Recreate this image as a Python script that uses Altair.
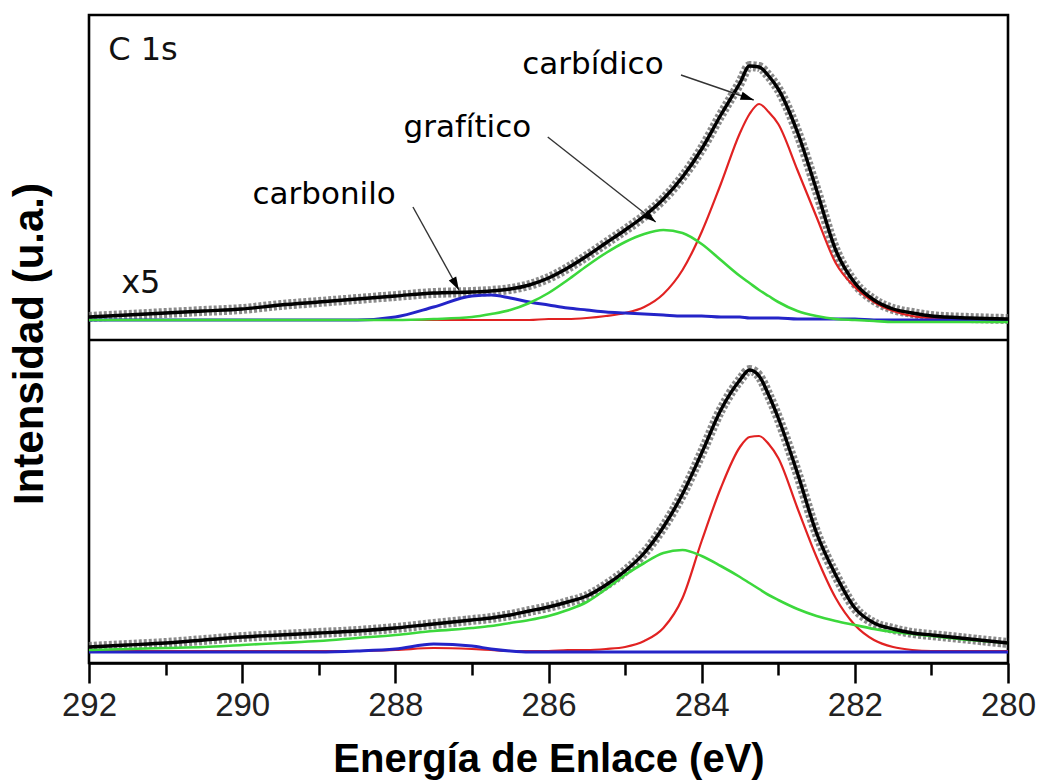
import math
import altair as alt
import pandas as pd

# ---------------- data ----------------
EV = [292, 291.5, 291, 290.5, 290, 289.5, 289, 288.5, 288, 287.5, 287, 286.75,
      286.5, 286.25, 286, 285.75, 285.5, 285.25, 285, 284.75, 284.5, 284.25,
      284, 283.75, 283.5, 283.375, 283.25, 283.125, 283, 282.75, 282.5, 282.25,
      282, 281.75, 281.5, 281.25, 281, 280.5, 280]

# upper spectrum (x5)
top_fit = [23, 25, 27, 29, 31, 35, 38, 41, 44, 47, 48, 49, 51, 55, 62, 72, 84, 97,
           110, 124, 141, 163, 191, 225, 257, 274, 273, 264, 251, 208, 150, 90,
           57, 40, 31, 27, 24, 22, 21]
top_carbidico = [20, 20, 20, 20, 20, 20, 20, 20, 20, 20, 20, 20, 20, 20, 21, 21, 22,
                 24, 27, 33, 46, 70, 108, 156, 207, 226, 236, 228, 216, 170, 123, 77,
                 53, 38, 29, 24, 22, 21, 20]
top_grafitico = [20, 20, 20, 20, 20, 20, 20, 20, 20, 21, 23, 26, 30, 37, 47, 60, 74,
                 87, 98, 106, 110, 107, 96, 80, 64, 57, 50, 44, 38, 29, 24, 21, 20,
                 19, 18, 18, 18, 18, 18]
top_carbonilo = [20, 20, 20, 20, 20, 20, 20, 20, 23, 33, 44, 45, 42, 38, 35, 32, 30,
                 28, 27, 26, 25, 24, 24, 23, 23, 22, 22, 22, 22, 21, 21, 21, 21, 20,
                 20, 20, 20, 20, 20]

# lower spectrum
bot_fit = [16, 18, 20, 23, 26, 28, 30, 32, 35, 39, 43, 45, 48, 52, 56, 61, 67, 78,
           92, 110, 136, 169, 210, 253, 283, 293, 287, 268, 245, 190, 130, 88, 55,
           40, 34, 30, 28, 24, 20]
bot_carbidico = [12, 12, 12, 12, 12, 12, 12, 12, 13, 15, 14, 13, 12, 12, 12, 13, 13,
                 14, 16, 22, 35, 65, 122, 175, 216, 226, 227, 219, 205, 155, 106, 65,
                 38, 23, 16, 13, 12, 12, 12]
bot_grafitico = [13, 14, 15, 16, 18, 20, 22, 25, 28, 32, 35, 37, 40, 43, 47, 53, 61,
                 74, 88, 100, 110, 113, 107, 97, 86, 80, 74, 68, 63, 54, 47, 42, 38,
                 34, 31, 29, 27, 23, 20]
bot_carbonilo = [11, 11, 11, 11, 11, 11, 11, 12, 14, 19, 17, 14, 12, 11, 11, 11, 11,
                 11, 11, 11, 11, 11, 11, 11, 11, 11, 11, 11, 11, 11, 11, 11, 11, 11,
                 11, 11, 11, 11, 11]

X_TICKS = list(range(280, 293))

# annotations (upper panel, data units)
labels = ["carbonilo", "grafítico", "carbídico"]
label_x = [288.93, 287.06, 285.42]
label_y = [145, 212, 275]
arrow_x1 = [287.77, 286.01, 284.27]
arrow_y1 = [133, 203, 265]
arrow_x2 = [287.17, 284.60, 283.32]
arrow_y2 = [50, 118, 240]
corner_text = ["C 1s", "x5"]
corner_x = [291.75, 291.58]
corner_y = [290, 57]

# ---------------- layout constants ----------------
W = 919
H_TOP = 325
H_BOT = 323
H = H_TOP + H_BOT
TOP_MAX = 325
BOT_MAX = 323

RED = "#e12222"
GREEN = "#3cd83c"
BLUE = "#2424c8"

x_axis = alt.Axis(
    values=X_TICKS,
    labelExpr="datum.value % 2 === 0 ? datum.label : ''",
    tickSize={"condition": {"test": "datum.value % 2 === 0", "value": 20}, "value": 12},
    tickWidth=2.5,
    tickColor="black",
    domainColor="black",
    domainWidth=2.5,
    grid=False,
    labelFont="Liberation Sans",
    labelFontSize=33,
    labelColor="#222",
    labelPadding=6,
    labelFlush=False,
    labelOverlap=False,
    labelBound=False,
    title="Energía de Enlace (eV)",
    titleFont="Liberation Sans",
    titleFontSize=40,
    titleFontWeight="bold",
    titleColor="black",
    titlePadding=17,
)
x_scale = alt.Scale(domain=[280, 292], reverse=True, nice=False, zero=False)


def panel(fit, carb, graf, carbo, vmax, rng):
    df = pd.DataFrame({"eV": EV, "fit": fit, "carb": carb, "graf": graf, "carbo": carbo})
    ys = alt.Scale(domain=[0, vmax], range=rng, nice=False, zero=False)
    base = alt.Chart(df)

    def line(field, color, width, **kw):
        return base.mark_line(color=color, strokeWidth=width, interpolate="monotone", **kw).encode(
            x=alt.X("eV:Q", scale=x_scale, axis=x_axis),
            y=alt.Y(f"{field}:Q", scale=ys, axis=None),
        )

    data_halo = line("fit", "#777777", 10, strokeDash=[3, 2], opacity=0.85)
    layers = [
        data_halo,
        line("carb", RED, 2.2),
        line("carbo", BLUE, 3),
        line("graf", GREEN, 2.6),
        line("fit", "black", 3.4),
    ]
    return layers, ys


top_layers, ys_top = panel(top_fit, top_carbidico, top_grafitico, top_carbonilo,
                           TOP_MAX, [H_TOP, 0])
bot_layers, ys_bot = panel(bot_fit, bot_carbidico, bot_grafitico, bot_carbonilo,
                           BOT_MAX, [H, H_TOP])

# arrows
px_per_ev = W / 12.0
px_per_unit = H_TOP / TOP_MAX
angles = []
for a, b, c, d in zip(arrow_x1, arrow_y1, arrow_x2, arrow_y2):
    dx = -(c - a) * px_per_ev
    dy = -(d - b) * px_per_unit
    angles.append((math.degrees(math.atan2(dx, -dy)) + 360) % 360)

arr_df = pd.DataFrame({"x1": arrow_x1, "y1": arrow_y1, "x2": arrow_x2, "y2": arrow_y2,
                       "ang": angles})
lab_df = pd.DataFrame({"t": labels, "x": label_x, "y": label_y})
corner_df = pd.DataFrame({"t": corner_text, "x": corner_x, "y": corner_y})

arrow_lines = alt.Chart(arr_df).mark_rule(color="#333", strokeWidth=1.4).encode(
    x=alt.X("x1:Q", scale=x_scale, axis=x_axis),
    y=alt.Y("y1:Q", scale=ys_top, axis=None),
    x2="x2:Q",
    y2="y2:Q",
)
arrow_heads = alt.Chart(arr_df).mark_point(
    shape="M0,0L-0.32,1L0.32,1Z", filled=True, color="black", opacity=1, size=700,
    strokeWidth=0,
).encode(
    x=alt.X("x2:Q", scale=x_scale, axis=x_axis),
    y=alt.Y("y2:Q", scale=ys_top, axis=None),
    angle=alt.Angle("ang:Q", scale=None),
)
ann_text = alt.Chart(lab_df).mark_text(
    font="DejaVu Sans", fontSize=31, color="black", align="center", baseline="middle"
).encode(
    x=alt.X("x:Q", scale=x_scale, axis=x_axis),
    y=alt.Y("y:Q", scale=ys_top, axis=None),
    text="t:N",
)
corner = alt.Chart(corner_df).mark_text(
    font="DejaVu Sans", fontSize=32, color="#111", align="left", baseline="middle"
).encode(
    x=alt.X("x:Q", scale=x_scale, axis=x_axis),
    y=alt.Y("y:Q", scale=ys_top, axis=None),
    text="t:N",
)
ytitle = alt.Chart(pd.DataFrame({"t": ["Intensidad (u.a.)"]})).mark_text(
    font="Liberation Sans", fontSize=42, fontWeight="bold", angle=270,
    align="center", baseline="middle", color="black",
).encode(x=alt.value(-59), y=alt.value(329), text="t:N")
divider = alt.Chart(pd.DataFrame({"d": [0]})).mark_rule(
    color="black", strokeWidth=2.6
).encode(y=alt.value(H_TOP), x=alt.value(0), x2=alt.value(W))

top = alt.layer(*top_layers, arrow_lines, arrow_heads, ann_text, corner, ytitle, divider)
bot = alt.layer(*bot_layers)

chart = alt.layer(top, bot).resolve_scale(y="independent").properties(
    width=W,
    height=H,
    autosize=alt.AutoSizeParams(type="none"),
    padding={"left": 89, "top": 15, "right": 33, "bottom": 120},
    background="white",
).configure_view(stroke="black", strokeWidth=2.6)

chart.save("out.html", embed_options={"renderer": "svg", "actions": False})
